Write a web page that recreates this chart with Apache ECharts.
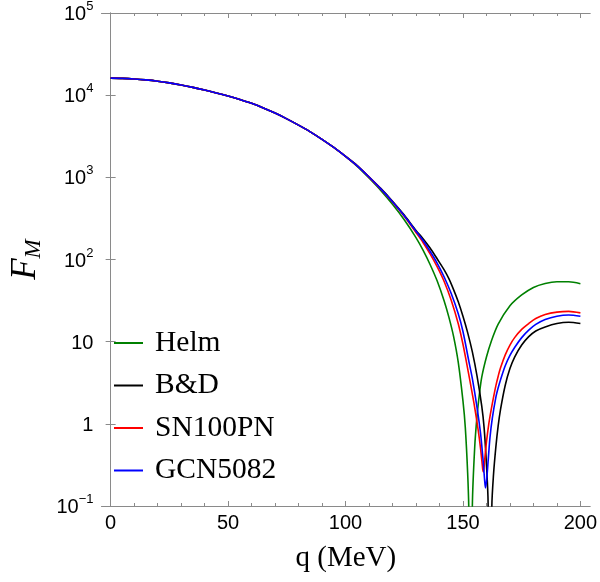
<!DOCTYPE html>
<html><head><meta charset="utf-8">
<script src="https://cdn.jsdelivr.net/npm/echarts@6/dist/echarts.min.js"></script>
<style>html,body{margin:0;padding:0;background:#fff}#c{width:600px;height:582px}</style>
</head><body><div id="c"></div>
<script>
const seriesNames = ['Helm', 'B&D', 'SN100PN', 'GCN5082'];
const seriesColors = ['#008000', '#000000', '#ff0000', '#0000ff'];

// shared low-q part (all four curves overlap)
const qCommon = [0, 5, 10, 15, 20, 25, 30, 35, 40, 45, 50, 55, 60, 65, 70, 75, 80, 85, 90, 95, 100];
const fCommon = [16100, 16000, 15750, 15350, 14800, 14100, 13300, 12450, 11550, 10650, 9750, 8850, 7950, 7000, 6050, 5150, 4320, 3580, 2900, 2310, 1800];

const qHelm = [105, 110, 115, 120, 125, 130, 133, 136, 139, 142, 144, 146, 148, 150, 151, 152, 152.5, 153.2, 154, 155, 156, 157, 158, 160, 162, 165, 170, 175, 180, 185, 190, 195, 200];
const fHelm = [1360, 980, 693, 470, 305, 185, 130, 87, 55, 31.3, 19.9, 11.6, 5.6, 1.9, 0.9, 0.25, 0.085, 0.0001, 0.1, 0.52, 1.25, 2.3, 3.7, 6.5, 10, 16.3, 27.3, 37, 45.7, 51, 53.5, 53.5, 50.8];

const qBD = [105, 110, 115, 120, 125, 130, 133, 136, 139, 142, 144, 146, 148, 150, 152, 154, 156, 158, 159, 160, 160.7, 161.5, 162.3, 163, 164, 165, 166, 168, 170, 172, 175, 178, 181, 185, 190, 195, 200];
const fBD = [1390, 1015, 733, 512, 347, 226, 179, 138, 102, 74.7, 58.4, 43, 30.6, 20.4, 12.9, 7.5, 3.8, 1.64, 0.9, 0.32, 0.11, 0.0001, 0.1, 0.24, 0.52, 0.95, 1.5, 2.95, 4.7, 6.5, 9.1, 11.5, 13.5, 15.1, 16.6, 17.2, 16.6];

const qSN = [105, 110, 115, 120, 125, 130, 133, 136, 139, 142, 145, 148, 150, 151.5, 153, 155, 156.5, 157.5, 158.2, 158.45, 158.7, 158.95, 159.2, 160, 161, 162, 163, 164, 165, 166, 168, 170, 172, 175, 178, 181, 185, 190, 195, 200];
const fSN = [1375, 1005, 718, 500, 335, 213, 161, 117, 81.9, 54, 31.9, 16.5, 9.3, 5.6, 3.3, 1.58, 0.83, 0.5, 0.32, 0.275, 0.26, 0.29, 0.35, 0.6, 1.0, 1.48, 2.1, 2.9, 3.8, 4.8, 6.9, 9.1, 11.2, 14.1, 16.6, 19.1, 21.4, 22.9, 23.4, 22.4];

const qGCN = [105, 110, 115, 120, 125, 130, 133, 136, 139, 142, 145, 148, 150, 152.6, 154, 156, 157.5, 158.5, 159.2, 159.6, 160.1, 160.8, 161.5, 162.5, 164, 165, 166, 168, 170, 172, 175, 178, 181, 185, 190, 195, 200];
const fGCN = [1380, 1010, 723, 504, 341, 221, 170, 126, 90.6, 61.2, 38.5, 21.8, 13.3, 5.6, 3.55, 1.58, 0.76, 0.38, 0.21, 0.166, 0.21, 0.38, 0.68, 1.17, 2.1, 2.75, 3.45, 5.1, 6.8, 8.5, 11.2, 13.8, 16.2, 18.6, 20.4, 21.1, 20.4];

const xMajorTicks = [0, 50, 100, 150, 200];
const xMinorTicks = [10, 20, 30, 40, 60, 70, 80, 90, 110, 120, 130, 140, 160, 170, 180, 190];
const yTicks = [0.1, 1, 10, 100, 1000, 10000, 100000];
const yTickLabels = ['{b|10}{s|\u22121}', '{b|1}', '{b|10}', '{b|10}{s|2}', '{b|10}{s|3}', '{b|10}{s|4}', '{b|10}{s|5}'];
const xTitle = 'q (MeV)';

const tails = [[qHelm, fHelm], [qBD, fBD], [qSN, fSN], [qGCN, fGCN]];
const frame = '#8a8a8a';
const sans = 'Liberation Sans';
const serif = 'Liberation Serif';

function buildData(k) {
  const head = qCommon.map((q, i) => [q, fCommon[i]]);
  const tail = tails[k][0].map((q, i) => [q, tails[k][1][i]]);
  return head.concat(tail);
}

function xAx(pos, ticks, len, showLine, showLabel) {
  return {
    type: 'value', position: pos, min: -3.9, max: 204.19,
    axisLine: {show: showLine, lineStyle: {color: frame, width: 1}},
    axisTick: {show: true, inside: true, length: len, customValues: ticks, lineStyle: {color: frame, width: 1}},
    axisLabel: showLabel ? {show: true, customValues: ticks, margin: 7, color: '#000', fontFamily: sans, fontSize: 20} : {show: false},
    splitLine: {show: false},
    name: showLabel ? xTitle : '', nameLocation: 'middle', nameGap: 37,
    nameTextStyle: {fontFamily: serif, fontSize: 29, color: '#000', lineHeight: 30}
  };
}

function yAx(pos, showLabel) {
  return {
    type: 'log', logBase: 10, position: pos, min: 0.1, max: 100000,
    axisLine: {show: true, lineStyle: {color: frame, width: 1}},
    axisTick: {show: true, inside: true, length: 5, customValues: yTicks, lineStyle: {color: frame, width: 1}},
    axisLabel: showLabel ? {
      show: true, customValues: yTicks, margin: 8,
      formatter: v => yTickLabels[Math.round(Math.log10(v)) + 1],
      rich: {
        b: {fontFamily: sans, fontSize: 20, color: '#000', lineHeight: 26, padding: [3, 0, 0, 0]},
        s: {fontFamily: sans, fontSize: 13, color: '#000', verticalAlign: 'top', lineHeight: 13}
      }
    } : {show: false},
    minorTick: {show: false},
    splitLine: {show: false},
    name: showLabel ? '{f|F}{m|M}' : '', nameLocation: 'middle', nameGap: 50,
    nameTextStyle: {
      rich: {
        f: {fontFamily: serif, fontStyle: 'italic', fontSize: 35, color: '#000', lineHeight: 40},
        m: {fontFamily: serif, fontStyle: 'italic', fontSize: 23, color: '#000', verticalAlign: 'bottom', lineHeight: 18}
      }
    }
  };
}

const chart = echarts.init(document.getElementById('c'), null, {renderer: 'canvas'});
chart.setOption({
  animation: false,
  backgroundColor: '#fff',
  grid: {left: 97, right: 7, top: 9, bottom: 76, containLabel: false},
  xAxis: [
    xAx('bottom', xMajorTicks, 5, true, true),
    xAx('bottom', xMinorTicks, 3, false, false),
    xAx('top', xMajorTicks, 5, true, false),
    xAx('top', xMinorTicks, 3, false, false)
  ],
  yAxis: [yAx('left', true), yAx('right', false)],
  legend: {
    orient: 'vertical', left: 109, top: 323,
    itemWidth: 29, itemHeight: 2, itemGap: 12.5, icon: 'rect',
    textStyle: {fontFamily: serif, fontSize: 29.5, color: '#000', lineHeight: 30, padding: [0, 0, 0, 7]},
    data: seriesNames
  },
  series: seriesNames.map((n, k) => ({
    name: n, type: 'line', xAxisIndex: 0, yAxisIndex: 0,
    data: buildData(k), showSymbol: false, symbol: 'none',
    smooth: 0.3,
    lineStyle: {color: seriesColors[k], width: 1.6}, itemStyle: {color: seriesColors[k]},
    clip: true, z: 2 + k
  }))
});
</script></body></html>
